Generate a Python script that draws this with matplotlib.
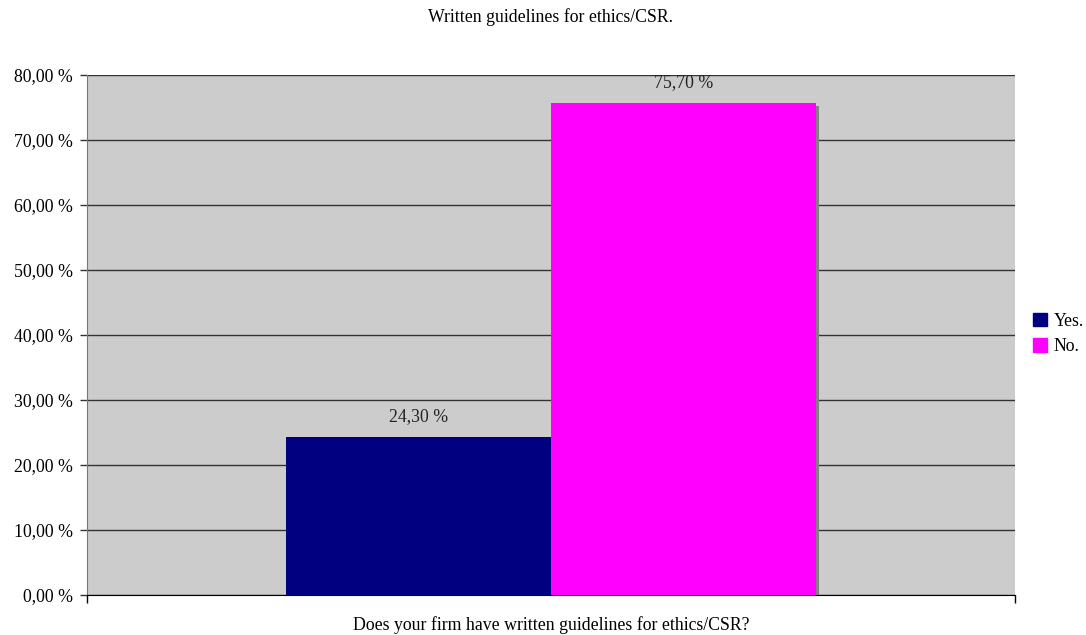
import matplotlib.pyplot as plt
import matplotlib.patheffects as pe
import matplotlib.patches as mpatches

# survey answers, share of firms in percent
answers = ["Yes.", "No."]
shares = [24.30, 75.70]
colours = ["#000080", "#FF00FF"]
yticks = [0, 10, 20, 30, 40, 50, 60, 70, 80]

plt.rcParams['font.family'] = ['Liberation Serif', 'DejaVu Serif']
plt.rcParams['font.size'] = 12.8

def pct(v):
    return ("%.2f %%" % v).replace(".", ",")

fig = plt.figure(figsize=(10.86, 6.35), dpi=100)
ax = fig.add_axes([87 / 1086, 1 - 595 / 635, 928 / 1086, 520 / 635])
ax.set_facecolor("#CCCCCC")

# two bars side by side around the middle of the single category
width = 0.286
lefts = [0.5 - width, 0.5]
shadow = [pe.SimplePatchShadow(offset=(2.2, -2.2), shadow_rgbFace="#808080", alpha=1), pe.Normal()]
for i in range(len(answers)):
    b = ax.bar(lefts[i], shares[i], width=width, align="edge", color=colours[i],
               zorder=3, label=answers[i])
    b[0].set_path_effects(shadow)
    ax.annotate(pct(shares[i]), xy=(lefts[i] + width / 2, shares[i]),
                xytext=(0, 14.5), textcoords="offset points",
                ha="center", va="center", color="#222222")

ax.set_xlim(0, 1)
ax.set_ylim(0, 80)
ax.set_yticks(yticks)
ax.set_yticklabels([pct(v) for v in yticks])
ax.yaxis.grid(True, color="#333333", linewidth=1, zorder=1)
ax.set_axisbelow(True)
ax.tick_params(axis="y", direction="out", length=5, width=1, color="#333333", pad=5)
ax.set_xticks([0, 1])
ax.set_xticklabels(["", ""])
ax.tick_params(axis="x", direction="out", length=6, width=1, color="black")

for side in ["top", "right"]:
    ax.spines[side].set_visible(False)
ax.spines["left"].set_color("#777777")
ax.spines["bottom"].set_color("black")

ax.set_xlabel("Does your firm have written guidelines for ethics/CSR?", labelpad=6)
fig.text(551 / 1086, 1 - 17 / 635, "Written guidelines for ethics/CSR.", ha="center", va="center")

handles = [mpatches.Patch(color=colours[i], label=answers[i]) for i in range(len(answers))]
fig.legend(handles=handles, loc="center left", bbox_to_anchor=(1033 / 1086, 1 - 334 / 635),
           frameon=False, handlelength=0.8, handleheight=0.8, handletextpad=0.35,
           labelspacing=0.5, borderaxespad=0, borderpad=0)

fig.savefig("out.png", dpi=100)
